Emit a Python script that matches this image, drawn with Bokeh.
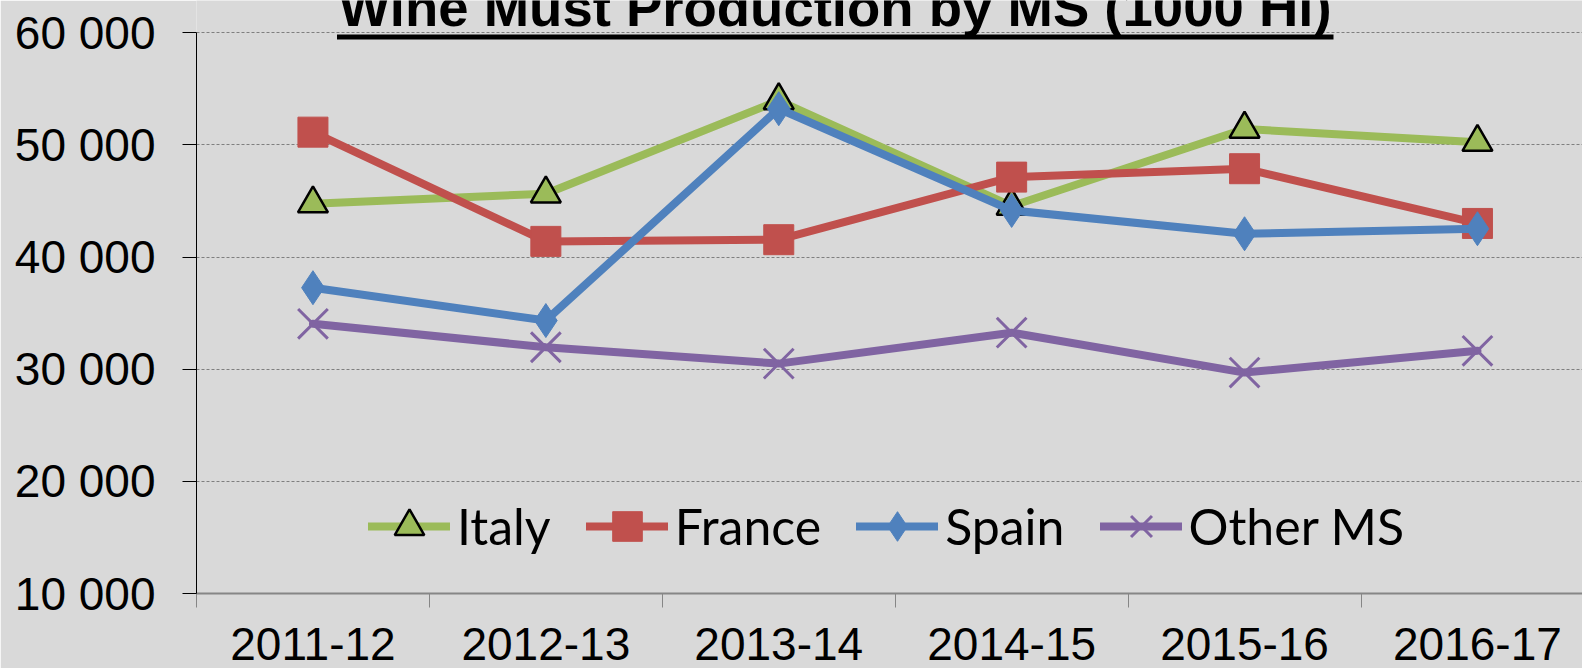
from bokeh.plotting import figure
from bokeh.models import Range1d, FixedTicker, Legend, LegendItem
from bokeh.embed import file_html
from bokeh.resources import INLINE
from bokeh.core.properties import value
import numpy as np

# ---- data ----
categories = ["2011-12", "2012-13", "2013-14", "2014-15", "2015-16", "2016-17"]
italy = [44760, 45650, 53960, 44550, 51420, 50250]
france = [51140, 41400, 41550, 47130, 47880, 43000]
spain = [37270, 34340, 53230, 44160, 42080, 42530]
other_ms = [34050, 31960, 30500, 33260, 29700, 31640]
y_ticks = [10000, 20000, 30000, 40000, 50000, 60000]
title_text = "Wine Must Production by MS (1000 Hl)"

# ---- layout ----
W, H = 1582, 668
LEFT, BOTTOM = 196, 75
CAT_PX = 232.9
TOP_PX = 32.3            # pixel offset of the 60 000 line below the frame top
frame_w = W - LEFT
frame_h = H - BOTTOM
px_per_10k = (frame_h - TOP_PX) / 5
x_end = frame_w / CAT_PX
y_top = 60000 + TOP_PX / px_per_10k * 10000


def px_to_y(py):
    return 60000 - (py - TOP_PX) / px_per_10k * 10000


def px_to_x(px):
    return (px - LEFT) / CAT_PX


BG = "#d9d9d9"
p = figure(width=W, height=H, output_backend="svg", toolbar_location=None,
           x_range=Range1d(0, x_end), y_range=Range1d(10000, y_top),
           min_border_left=LEFT, min_border_bottom=BOTTOM,
           min_border_top=0, min_border_right=0,
           background_fill_color=BG, border_fill_color=BG,
           outline_line_color=None)

xs = np.arange(len(categories)) + 0.5

# axes
xa = p.xaxis[0]
xa.ticker = FixedTicker(ticks=list(xs), minor_ticks=list(range(len(categories) + 1)))
xa.major_label_overrides = {float(x): c for x, c in zip(xs, categories)}
xa.major_tick_line_color = None
xa.major_tick_out = 0
xa.major_tick_in = 0
xa.minor_tick_out = 14
xa.minor_tick_in = 0
xa.minor_tick_line_color = "#868686"
xa.axis_line_color = "#868686"
xa.axis_line_width = 2
xa.major_label_text_font = "Liberation Sans"
xa.major_label_text_font_size = "46px"
xa.major_label_text_color = "black"
xa.major_label_standoff = 20

ya = p.yaxis[0]
ya.ticker = FixedTicker(ticks=y_ticks)
ya.major_label_overrides = {v: f"{v:,}".replace(",", " ") for v in y_ticks}
ya.bounds = (y_ticks[0], y_ticks[-1])
ya.axis_line_color = "black"
ya.major_tick_line_color = "black"
ya.major_tick_out = 14
ya.major_tick_in = 0
ya.minor_tick_line_color = None
ya.major_label_text_font = "Liberation Sans"
ya.major_label_text_font_size = "46px"
ya.major_label_text_color = "black"
ya.major_label_standoff = 27

p.xgrid.grid_line_color = None
p.ygrid.grid_line_color = "#7f7f7f"
p.ygrid.grid_line_dash = "3 2"
p.ygrid.grid_line_width = 1

# ---- title (cropped at the top like the reference) ----
p.text(x=[px_to_x(834.7)], y=[px_to_y(7.3)], text=[title_text], text_align="center",
       text_baseline="alphabetic", text_font=value("Liberation Sans"),
       text_font_style="bold", text_font_size="54.5px", text_color="black")
p.segment(x0=[px_to_x(336.5)], x1=[px_to_x(1333)],
          y0=[px_to_y(36.5)], y1=[px_to_y(36.5)], line_color="black", line_width=5)

# ---- series ----
series = [
    ("Italy", italy, "#9bbb59", "triangle", dict(size=30, fill_color="#9bbb59", line_color="black", line_width=2.5)),
    ("France", france, "#c0504d", "square", dict(size=30, fill_color="#c0504d", line_color="#c0504d", line_width=1)),
    ("Spain", spain, "#4f81bd", "diamond", dict(size=34, fill_color="#4f81bd", line_color="#4f81bd", line_width=1)),
    ("Other MS", other_ms, "#8064a2", "x", dict(size=42, line_color="#8064a2", line_width=3)),
]
items = []
for name, vals, col, mk, kw in series:
    lr = p.line(xs, vals, line_color=col, line_width=8, line_join="round", line_cap="round")
    sr = p.scatter(xs, vals, marker=mk, **kw)
    items.append(LegendItem(label=name, renderers=[lr, sr]))

leg = Legend(items=items, orientation="horizontal", location=(172, 30),
             glyph_width=82, glyph_height=74, label_height=74,
             label_standoff=7, spacing=35, padding=0, margin=0,
             label_text_font="Lato", label_text_font_size="50px",
             label_text_color="black",
             background_fill_alpha=0, border_line_color=None)
p.add_layout(leg, "center")

open("out.html", "w").write(file_html(p, INLINE))
